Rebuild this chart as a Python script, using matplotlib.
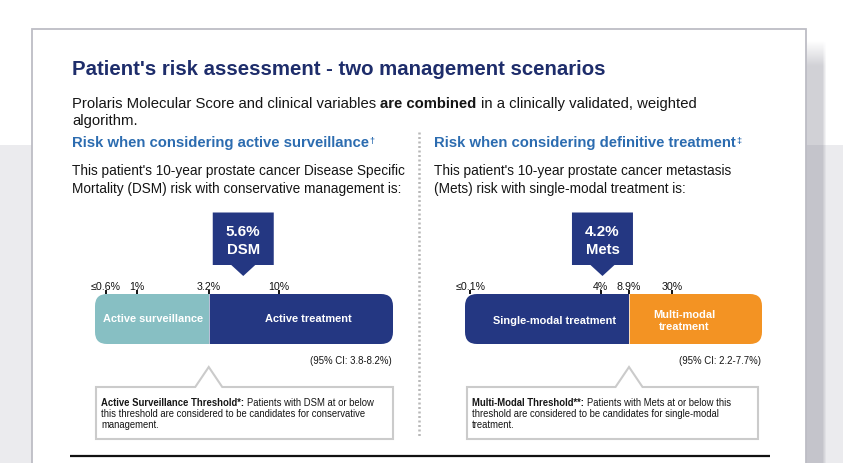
import matplotlib
matplotlib.use('Agg')
import matplotlib.pyplot as plt
from matplotlib.patches import FancyBboxPatch, Polygon, Rectangle
import numpy as np

# ---------------- data ----------------
title = "Patient's risk assessment - two management scenarios"
intro_pieces = [("Prolaris Molecular Score and clinical variables", 'normal'),
                (" are combined", 'bold'),
                (" in a clinically validated, weighted", 'normal')]
intro_line2 = "algorithm."

left_heading = "Risk when considering active surveillance"
left_heading_mark = "\u2020"
left_body = ["This patient's 10-year prostate cancer Disease Specific",
             "Mortality (DSM) risk with conservative management is:"]
left_ticks = [0.6, 1, 3.2, 10]
left_tick_labels = ["\u22640.6%", "1%", "3.2%", "10%"]
left_threshold = 3.2
left_segments = ["Active surveillance", "Active treatment"]
left_value = 5.6
left_value_text = ["5.6%", "DSM"]
left_ci = "(95% CI: 3.8-8.2%)"
left_note_bold = "Active Surveillance Threshold*:"
left_note = [" Patients with DSM at or below",
             "this threshold are considered to be candidates for conservative",
             "management."]

right_heading = "Risk when considering definitive treatment"
right_heading_mark = "\u2021"
right_body = ["This patient's 10-year prostate cancer metastasis",
              "(Mets) risk with single-modal treatment is:"]
right_ticks = [0.1, 4, 8.9, 30]
right_tick_labels = ["\u22640.1%", "4%", "8.9%", "30%"]
right_threshold = 8.9
right_segments = ["Single-modal treatment", "Multi-modal\ntreatment"]
right_value = 4.2
right_value_text = ["4.2%", "Mets"]
right_ci = "(95% CI: 2.2-7.7%)"
right_note_bold = "Multi-Modal Threshold**:"
right_note = [" Patients with Mets at or below this",
              "threshold are considered to be candidates for single-modal",
              "treatment."]

# ---------------- style ----------------
FONT = ['Liberation Sans', 'DejaVu Sans']
NAVY = '#243782'
TEAL = '#87bfc3'
ORANGE = '#f39323'
TITLE_C = '#1e2d6b'
BLUE = '#2c6cb0'
TXT = '#151515'

W, H = 843, 463
fig = plt.figure(figsize=(W / 100, H / 100), dpi=100)
bg = fig.add_axes([0, 0, 1, 1])
bg.set_xlim(0, W)
bg.set_ylim(H, 0)
bg.axis('off')


def px_axes(x0, y0, x1, y1):
    return fig.add_axes([x0 / W, 1 - y1 / H, (x1 - x0) / W, (y1 - y0) / H])


# background, shadow and card
bg.add_patch(Rectangle((0, 145), W, H - 145, color='#ebebee', zorder=0, lw=0))
sh = np.zeros((200, 20, 4))
sh[..., :3] = (0.50, 0.50, 0.55)
xa = np.where(np.arange(20) < 16, 0.36, 0.36 * (20 - np.arange(20)) / 4.0)
ya = np.clip((np.linspace(40, 463, 200) - 40) / 25.0, 0, 1)
sh[..., 3] = ya[:, None] * xa[None, :]
bg.imshow(sh, extent=[806, 826, 463, 40], aspect='auto', zorder=1, interpolation='bilinear')
bg.set_xlim(0, W)
bg.set_ylim(H, 0)
bg.add_patch(Rectangle((32, 28.5), 773.5, 520, facecolor='white', edgecolor='#bdbdc5', lw=1.3, zorder=2))


def rich_line(x, y, pieces, size, color):
    t = bg.text(x, y, pieces[0][0], fontsize=size, fontweight=pieces[0][1], color=color,
                va='baseline', ha='left', family=FONT, zorder=5)
    prev = t
    for txt, w in pieces[1:]:
        off = 0.278 * size if txt.startswith(' ') else 0
        prev = bg.annotate(txt.lstrip(' '), xy=(1, 0), xycoords=prev, xytext=(off, 0),
                           textcoords='offset points', fontsize=size, fontweight=w,
                           color=color, va='bottom', ha='left', family=FONT, zorder=5)
    return t


# title and intro
bg.text(72, 75, title, fontsize=14.7, fontweight='bold', color=TITLE_C, family=FONT,
        va='baseline', ha='left', zorder=5)
rich_line(72, 108.3, intro_pieces, 10.7, TXT)
bg.text(72, 124.5, intro_line2, fontsize=10.7, color=TXT, family=FONT, va='baseline', zorder=5)

# divider
bg.plot([419, 419], [132, 438], color='#b8b8b8', lw=1.8, linestyle=(0, (0.8, 1.0)), zorder=4)
# bottom rule
bg.plot([70, 770], [455.5, 455.5], color='#111111', lw=1.6, zorder=4, solid_capstyle='butt')


def panel(x_text, heading, mark, body, bar_x0, bar_x1, xlim, ticks, tick_labels, threshold,
          seg_colors, seg_labels, seg_label_pos, value, value_text, ci, note_bold, note,
          box_x0, box_x1):
    h = bg.text(x_text, 147, heading, fontsize=10.7, fontweight='bold', color=BLUE,
                family=FONT, va='baseline', ha='left', zorder=5)
    bg.annotate(mark, xy=(1, 1), xycoords=h, xytext=(0.6, -0.5), textcoords='offset points',
                fontsize=6.5, fontweight='bold', color=BLUE, family=FONT, va='top', ha='left', zorder=5)
    for i, line in enumerate(body):
        bg.text(x_text, 175.5 + 17.8 * i, line, fontsize=9.8, color=TXT, family=FONT,
                va='baseline', ha='left', zorder=5)

    y0, y1 = 294, 344
    ax = px_axes(bar_x0, y0, bar_x1, y1)
    ax.set_xscale('log')
    ax.set_xlim(*xlim)
    ax.set_ylim(0, 1)
    ax.axis('off')
    lo, hi = xlim
    bars = ax.barh(0.5, [threshold - lo, hi - threshold], left=[lo, threshold], height=1,
                   color=seg_colors, edgecolor='none')
    wpx, hpx = bar_x1 - bar_x0, y1 - y0
    clip = FancyBboxPatch((0, 0), 1, 1, boxstyle=f"round,pad=0,rounding_size={12 / wpx}",
                          mutation_aspect=wpx / hpx, transform=ax.transAxes)
    for b in bars:
        b.set_clip_path(clip)
    ax.plot([threshold, threshold], [0, 1], color='white', lw=0.7, alpha=0.7)
    for t, lab in zip(ticks, tick_labels):
        ax.plot([t, t], [1.0, 1.075], color='#111111', lw=1.4, clip_on=False, solid_capstyle='butt')
        ax.text(t, 1.085, lab, ha='center', va='baseline', fontsize=7.7, color='#111111',
                family=FONT, clip_on=False)
    for (fx, fy), lab in zip(seg_label_pos, seg_labels):
        ax.text(fx, fy, lab, transform=ax.transAxes, ha='center', va='baseline', fontsize=7.9,
                fontweight='bold', color='white', family=FONT, linespacing=1.25)

    # value marker
    vx = ax.transData.transform((value, 0.5))[0]
    top, bot, tip, hw, pw = 212.5, 265, 276, 30.5, 12
    bg.add_patch(Polygon([(vx - hw, top), (vx + hw, top), (vx + hw, bot), (vx + pw, bot),
                          (vx, tip), (vx - pw, bot), (vx - hw, bot)], closed=True,
                         facecolor=NAVY, edgecolor='none', zorder=5))
    bg.text(vx, top + 23, value_text[0], ha='center', va='baseline', fontsize=10.9,
            fontweight='bold', color='white', family=FONT, zorder=6)
    bg.text(vx, top + 42, value_text[1], ha='center', va='baseline', fontsize=10.7,
            fontweight='bold', color='white', family=FONT, zorder=6)

    # CI
    bg.text(bar_x1 - 1, 363.5, ci, ha='right', va='baseline', fontsize=6.9, color=TXT,
            family=FONT, zorder=5)

    # threshold callout
    nx = ax.transData.transform((threshold, 0.5))[0]
    bt, bb, ntip, nhw = 387, 439, 367, 13.5
    bg.add_patch(Polygon([(box_x0, bt), (nx - nhw, bt), (nx, ntip), (nx + nhw, bt),
                          (box_x1, bt), (box_x1, bb), (box_x0, bb)], closed=True,
                         facecolor='white', edgecolor='#cbcbcb', lw=1.5, zorder=4))
    tx = box_x0 + 5
    rich_line(tx, 405.7, [(note_bold, 'bold'), (note[0], 'normal')], 6.85, TXT)
    for i, line in enumerate(note[1:]):
        bg.text(tx, 416.7 + 10.8 * i, line, fontsize=6.85, color=TXT, family=FONT,
                va='baseline', ha='left', zorder=5)


panel(72, left_heading, left_heading_mark, left_body, 95, 393, (0.506, 63.5),
      left_ticks, left_tick_labels, left_threshold, [TEAL, NAVY], left_segments,
      [(0.195, 0.43), (0.715, 0.43)], left_value, left_value_text, left_ci,
      left_note_bold, left_note, 96, 393)

panel(434, right_heading, right_heading_mark, right_body, 465, 762, (0.086, 383),
      right_ticks, right_tick_labels, right_threshold, [NAVY, ORANGE], right_segments,
      [(0.303, 0.39), (0.737, 0.27)], right_value, right_value_text, right_ci,
      right_note_bold, right_note, 467, 758)

fig.savefig('out.png', dpi=100)
